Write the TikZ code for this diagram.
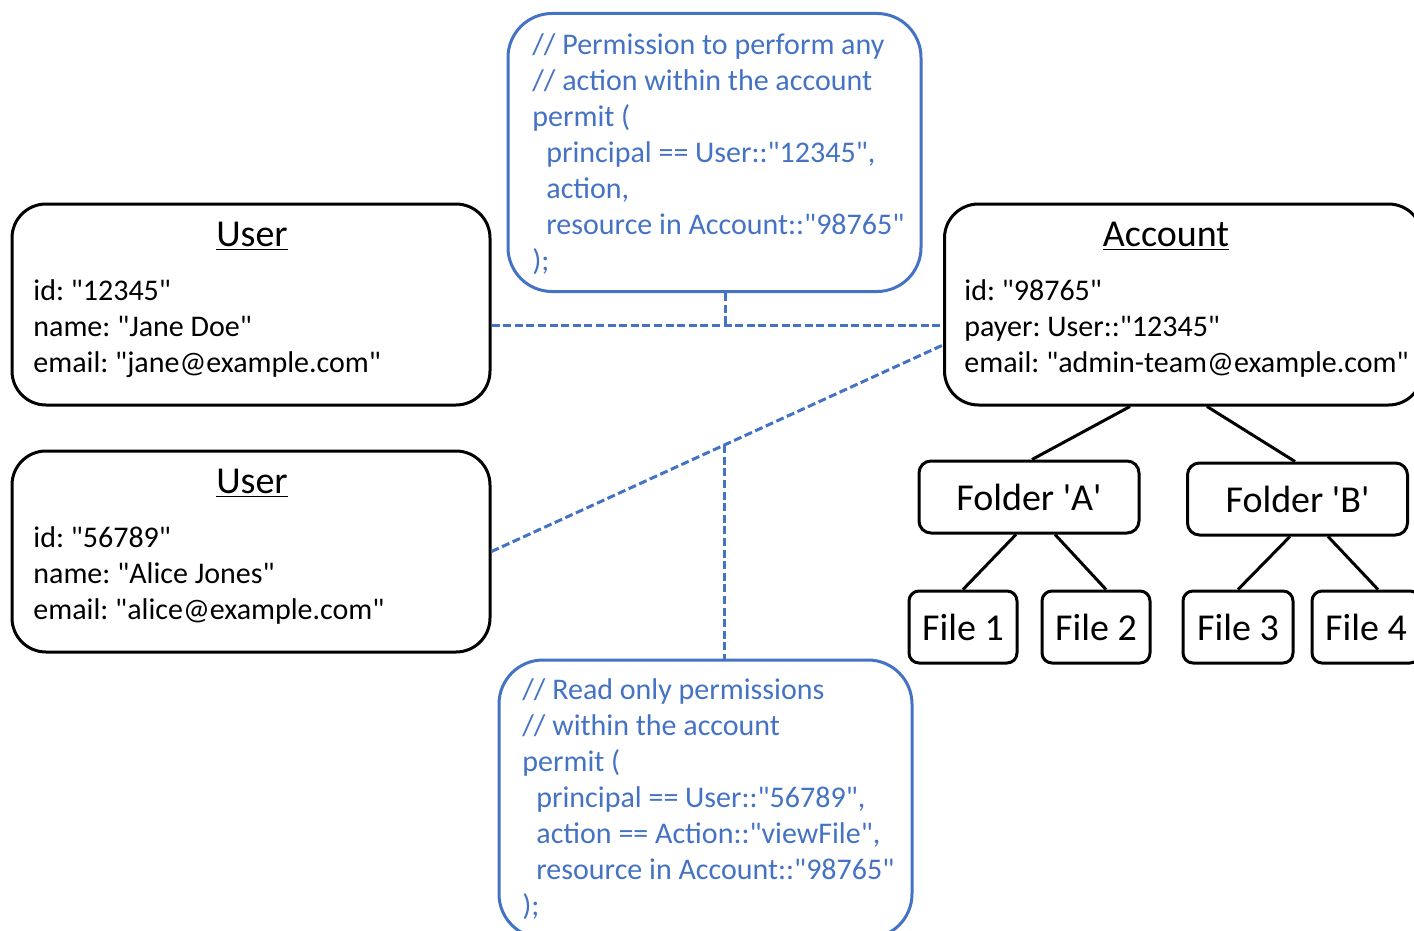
\documentclass[tikz,border=0pt]{standalone}
\usepackage{fontspec}
\setmainfont{Carlito}[Ligatures=TeXOff]
\usetikzlibrary{positioning, calc}

\definecolor{policyblue}{RGB}{68,114,196}

\begin{document}
\frenchspacing
\begin{tikzpicture}[x=0.5pt, y=-0.5pt,
  entity/.style={draw, line width=1.5pt, rounded corners=17pt, minimum width=239pt, minimum height=100.5pt, inner sep=0pt},
  policy/.style={draw=policyblue, line width=1.5pt, rounded corners=22pt, minimum width=206.5pt, minimum height=139pt, inner sep=0pt},
  folder/.style={draw, line width=1.5pt, rounded corners=6pt, minimum width=110pt, minimum height=36pt, inner sep=0pt, font=\fontsize{19}{23}\selectfont},
  file/.style={draw, line width=1.5pt, rounded corners=5pt, minimum width=54pt, minimum height=36pt, inner sep=0pt, font=\fontsize{19}{23}\selectfont},
  title/.style={anchor=base, inner sep=0pt, font=\fontsize{19}{23}\selectfont},
  attrs/.style={anchor=north west, align=left, inner sep=0pt, font=\fontsize{15}{18}\selectfont},
  code/.style={anchor=north west, align=left, inner sep=0pt, text=policyblue, font=\fontsize{15}{18}\selectfont},
  link/.style={draw=policyblue, line width=1.5pt, dash pattern=on 4pt off 1.8pt},
  tree/.style={line width=1.5pt}]

\clip (0,0) rectangle (1414,931);
\useasboundingbox (0,0) rectangle (1414,931);

\def\ind{\hspace*{7pt}}

% entities
\node[entity] (user1) at (251,304.5) {};
\node[title] (user1t) at (252,246) {\underline{User}};
\node[attrs] (user1a) at (33,279) {id: "12345"\\name: "Jane Doe"\\email: "jane@example.com"};

\node[entity] (user2) at (251,551.5) {};
\node[title] (user2t) at (252,493) {\underline{User}};
\node[attrs] (user2a) at (33,526) {id: "56789"\\name: "Alice Jones"\\email: "alice@example.com"};

\node[entity] (acct) at (1183.5,304.5) {};
\node[title] (acctt) at (1166,246) {\underline{Account}};
\node[attrs] (accta) at (964,279) {id: "98765"\\payer: User::"12345"\\email: "admin-team@example.com"};

% policies
\node[policy] (pol1) at (714.5,152.5) {};
\node[code] (pol1c) at (532,33) {// Permission to perform any\\// action within the account\\permit (\\\ind principal == User::"12345",\\\ind action,\\\ind resource in Account::"98765"\\);};

\node[policy] (pol2) at (705.5,799) {};
\node[code] (pol2c) at (522,678) {// Read only permissions\\// within the account\\permit (\\\ind principal == User::"56789",\\\ind action == Action::"viewFile",\\\ind resource in Account::"98765"\\);};

% folders and files
\node[folder] (fa) at (1029,497) {Folder \textquotesingle A\textquotesingle};
\node[folder] (fb) at (1297.5,499) {Folder \textquotesingle B\textquotesingle};
\node[file] (f1) at (963,627) {File 1};
\node[file] (f2) at (1096,627) {File 2};
\node[file, minimum width=55pt] (f3) at (1238,627) {File 3};
\node[file] (f4) at (1366,627) {File 4};

\draw[tree] ($(acct.south)+(-53.5,0)$) -- ($(fa.north)+(3,0)$);
\draw[tree] ($(acct.south)+(23.5,0)$) -- ($(fb.north)+(-2.5,0)$);
\draw[tree] ($(fa.south)+(-13,0)$) -- (f1.north);
\draw[tree] ($(fa.south)+(26,0)$) -- ($(f2.north)+(10,0)$);
\draw[tree] ($(fb.south)+(-7.5,0)$) -- (f3.north);
\draw[tree] ($(fb.south)+(30.5,0)$) -- ($(f4.north)+(12,0)$);

% links
\coordinate (hub) at (725,325);
\coordinate (acctlow) at ($(acct.west)+(0,40.5)$);
\draw[link] (user1.east |- hub) -- (acct.west |- hub);
\draw[link] (hub |- pol1.south) -- (hub);
\draw[link] (user2.east) -- coordinate[pos=0.515] (fork) (acctlow);
\draw[link] (fork) -- (fork |- pol2.north);

\end{tikzpicture}
\end{document}
